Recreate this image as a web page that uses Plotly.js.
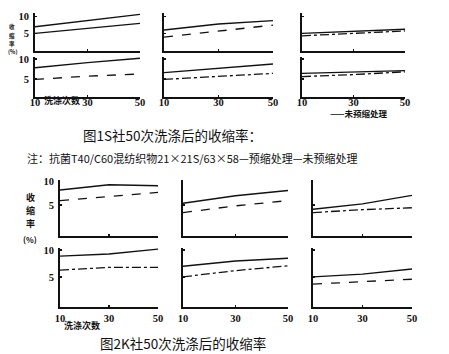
<!DOCTYPE html>
<html><head><meta charset="utf-8">
<script src="https://cdn.plot.ly/plotly-3.0.1.min.js"></script>
<style>html,body{margin:0;padding:0;background:#fff;}#chart{width:449px;height:354px;}</style>
</head><body><div id="chart"></div>
<script>
// Wash counts (x)
const washes = [10, 30, 50];
const xTickLabels = ['10', '30', '50'];
// Figure 1 (S社): shrinkage (%)
const f1TopLeftA = [7.0, 8.8, 10.6];
const f1TopLeftB = [5.1, 6.5, 8.0];
const f1BotLeftA = [7.8, 9.1, 10.2];
const f1BotLeftB = [4.9, 5.7, 6.25];
const f1TopMidA = [6.1, 7.8, 8.8];
const f1TopMidB = [4.0, 5.8, 7.5];
const f1BotMidA = [6.6, 7.7, 8.75];
const f1BotMidB = [4.9, 5.7, 6.4];
const f1TopRightA = [5.1, 5.8, 6.3];
const f1TopRightB = [4.4, 5.0, 5.8];
const f1BotRightA = [6.4, 6.8, 7.1];
const f1BotRightB = [5.6, 6.1, 6.8];
// Figure 2 (K社)
const f2TopLeftA = [8.1, 9.2, 9.0];
const f2TopLeftB = [5.9, 6.7, 7.6];
const f2BotLeftA = [8.9, 9.3, 10.2];
const f2BotLeftB = [6.3, 6.8, 6.8];
const f2TopMidA = [5.35, 6.9, 8.0];
const f2TopMidB = [3.4, 4.8, 5.9];
const f2BotMidA = [7.0, 8.0, 8.5];
const f2BotMidB = [5.05, 6.2, 7.1];
const f2TopRightA = [4.1, 5.2, 7.0];
const f2TopRightB = [3.4, 4.0, 4.4];
const f2BotRightA = [5.05, 5.55, 6.5];
const f2BotRightB = [3.7, 4.2, 4.6];
const yTickVals = [5, 10];
const yTickLabels = ['5', '10'];

const W = 449, H = 354;
const fx = p => p / W;
const fy = p => 1 - p / H;

// panel layout: [x0,x1,yTop,yBot, yRange, series A, series B, dashB, showY, showX, xStandoff]
const panels = [
  [35,140,13,51,[0,11],f1TopLeftA,f1TopLeftB,'solid',true,false,0],
  [35,140,57,97,[0.5,10.5],f1BotLeftA,f1BotLeftB,'dash',true,true,-6],
  [164,273,13,51,[0,11],f1TopMidA,f1TopMidB,'dash',false,false,0],
  [164,273,57,97,[0.5,10.5],f1BotMidA,f1BotMidB,'dashdot',false,true,-6],
  [302,405,13,51,[0,11],f1TopRightA,f1TopRightB,'dashdot',false,false,0],
  [302,405,57,97,[0.5,10.5],f1BotRightA,f1BotRightB,'dashdot',false,true,-6],
  [60,158,180,236,[-1.5,10.2],f2TopLeftA,f2TopLeftB,'dash',true,false,0],
  [60,158,248,307,[-0.55,10.4],f2BotLeftA,f2BotLeftB,'dashdot',true,true,0],
  [183,288,180,236,[-1.5,10.2],f2TopMidA,f2TopMidB,'dash',false,false,0],
  [183,288,248,307,[-0.55,10.4],f2BotMidA,f2BotMidB,'dashdot',false,true,0],
  [313,412,180,236,[-1.5,10.2],f2TopRightA,f2TopRightB,'dashdot',false,false,0],
  [313,412,248,307,[-0.55,10.4],f2BotRightA,f2BotRightB,'dash',false,true,0]
];

const traces = [];
const layout = {
  width: W, height: H,
  margin: {l:0,r:0,t:0,b:0},
  paper_bgcolor: '#fff', plot_bgcolor: 'rgba(0,0,0,0)',
  showlegend: false,
  font: {family: 'Liberation Serif', color: '#111'},
  annotations: []
};
const tickFont = {family: 'Liberation Serif', size: 10.5, color: '#111', weight: 'bold'};

panels.forEach((p, i) => {
  const n = i + 1;
  const xa = 'x' + (n === 1 ? '' : n), ya = 'y' + (n === 1 ? '' : n);
  const xk = 'xaxis' + (n === 1 ? '' : n), yk = 'yaxis' + (n === 1 ? '' : n);
  traces.push({x: washes, y: p[5], xaxis: xa, yaxis: ya, mode: 'lines', line: {color: '#111', width: 1.4}});
  traces.push({x: washes, y: p[6], xaxis: xa, yaxis: ya, mode: 'lines', line: {color: '#111', width: 1.3, dash: p[7]}});
  layout[xk] = {
    domain: [fx(p[0]), fx(p[1])], anchor: ya, range: [10, 50],
    showline: true, linecolor: '#111', linewidth: 2, showgrid: false, zeroline: false,
    tickvals: washes, ticktext: xTickLabels, showticklabels: p[9],
    ticks: 'inside', ticklen: 2, tickwidth: 1.5, tickcolor: '#111',
    tickfont: tickFont, ticklabelstandoff: p[10], fixedrange: true
  };
  layout[yk] = {
    domain: [fy(p[3]), fy(p[2])], anchor: xa, range: p[4],
    showline: true, linecolor: '#111', linewidth: 2, showgrid: false, zeroline: false,
    tickvals: yTickVals, ticktext: yTickLabels, showticklabels: p[8],
    ticks: 'inside', ticklen: 2, tickwidth: 1.5, tickcolor: '#111',
    tickfont: tickFont, ticklabelstandoff: 2, fixedrange: true
  };
});

function ann(text, x, y, size, opts) {
  layout.annotations.push(Object.assign({
    text: text, x: fx(x), y: fy(y), xref: 'paper', yref: 'paper',
    showarrow: false, xanchor: 'center', yanchor: 'middle',
    font: {family: 'Noto Sans CJK SC', size: size, color: '#111'}
  }, opts || {}));
}
const bold = (s) => ({font: {family: 'Noto Sans CJK SC', size: s, color: '#111', weight: 'bold'}});
// Figure 1 y-title
ann('收', 12, 27.5, 5.5, bold(5.5));
ann('缩', 12, 35.5, 5.5, bold(5.5));
ann('率', 12, 43.5, 5.5, bold(5.5));
ann('(%)', 12, 52, 5.5, bold(5.5));
ann('洗涤次数', 62, 100, 9, bold(9));
ann('——未预缩处理', 358, 113.5, 8.5, bold(8.5));
// Captions
ann('图1S社50次洗涤后的收缩率：', 172, 135, 13.5);
ann('注：抗菌T40/C60混纺织物21×21S/63×58—预缩处理—未预缩处理', 192, 158, 11);
// Figure 2 y-title
ann('收', 30, 197, 9, bold(9));
ann('缩', 30, 210, 9, bold(9));
ann('率', 30, 223, 9, bold(9));
ann('(%)', 30, 239, 8, bold(8));
ann('洗涤次数', 82, 325, 9, bold(9));
ann('图2K社50次洗涤后的收缩率', 183, 343, 13.5);

Plotly.newPlot('chart', traces, layout, {staticPlot: true, displayModeBar: false});
</script>
</body></html>
